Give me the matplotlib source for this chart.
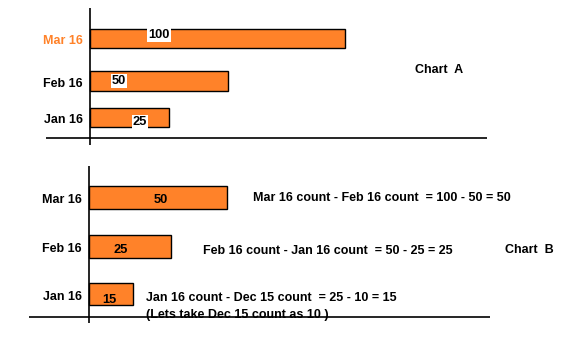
import matplotlib
matplotlib.use("Agg")
import matplotlib.pyplot as plt

# ---------------- data ----------------
months = ["Jan 16", "Feb 16", "Mar 16"]

# Chart A: cumulative counts (labels) and drawn bar lengths
a_counts = [25, 50, 100]
a_lengths = [31, 54, 100]

# Chart B: month-over-month difference
b_counts = [15, 25, 50]
b_lengths = [17, 32, 54]
b_notes = [
    "Jan 16 count - Dec 15 count  = 25 - 10 = 15",
    "Feb 16 count - Jan 16 count  = 50 - 25 = 25",
    "Mar 16 count - Feb 16 count  = 100 - 50 = 50",
]
b_footnote = "(Lets take Dec 15 count as 10 )"

ORANGE = "#FF8229"
INK = "black"
FONT = "Liberation Sans"
FS = 9.0
TXT_DY = -0.06  # text baseline nudge (data units)

W, H = 587, 356
fig = plt.figure(figsize=(W / 100, H / 100), dpi=100)


def px_axes(left, right, top, bottom):
    return fig.add_axes([left / W, 1 - bottom / H, (right - left) / W, (bottom - top) / H])


def style(ax, xlim, ylim, base_y, ypos, colors):
    ax.set_xlim(*xlim)
    ax.set_ylim(*ylim)
    ax.set_axis_off()
    ax.axvline(0, color=INK, lw=1.2)
    ax.axhline(base_y, color=INK, lw=1.2)
    # category labels sit just left of the vertical axis line
    for y, m, c in zip(ypos, months, colors):
        ax.text(-2.9, y + TXT_DY, m, ha="right", va="center", fontsize=FS,
                fontweight="bold", family=FONT, color=c)


# ---------------- Chart A ----------------
a_pos = [0, 0.92, 2]
axA = px_axes(46, 487, 8, 145)
style(axA, (-17.25, 155.7), (-0.696, 2.772), -0.519, a_pos, [INK, INK, ORANGE])
axA.barh(a_pos, a_lengths, height=0.5, color=ORANGE,
         edgecolor=INK, linewidth=1.0, zorder=2)

a_label_x = [19.6, 11.4, 27]
a_label_dy = [-0.12, 0.0, 0.08]
for i, v in enumerate(a_counts):
    axA.text(a_label_x[i], a_pos[i] + a_label_dy[i], str(v), ha="center", va="center",
             fontsize=FS + 0.3, fontweight="bold", family=FONT, color=INK, zorder=3,
             bbox=dict(facecolor="white", edgecolor="none", pad=0.8))
axA.text(127.5, 1.25 + TXT_DY, "Chart  A", ha="left", va="center", fontsize=FS,
         fontweight="bold", family=FONT, color=INK)

# ---------------- Chart B ----------------
b_pos = [0, 0.99, 2]
axB = px_axes(29, 490, 166, 323)
style(axB, (-23.7, 157), (-0.601, 2.653), -0.477, b_pos, [INK, INK, INK])
axB.barh(b_pos, b_lengths, height=0.47, color=ORANGE,
         edgecolor=INK, linewidth=1.0, zorder=2)

b_label_x = [8, 12.4, 28]
b_label_dy = [-0.06, -0.01, 0.0]
for i, v in enumerate(b_counts):
    axB.text(b_label_x[i], b_pos[i] + b_label_dy[i] + TXT_DY, str(v), ha="center",
             va="center", fontsize=FS + 0.3, fontweight="bold", family=FONT,
             color=INK, zorder=3)

b_note_x = [22.2, 44.5, 64.1]
b_note_dy = [-0.02, -0.03, 0.05]
for i, note in enumerate(b_notes):
    axB.text(b_note_x[i], b_pos[i] + b_note_dy[i] + TXT_DY, note, ha="left",
             va="center", fontsize=FS, fontweight="bold", family=FONT, color=INK)
axB.text(22.2, -0.38 + TXT_DY, b_footnote, ha="left", va="center", fontsize=FS,
         fontweight="bold", family=FONT, color=INK)
axB.text(163, 0.98 + TXT_DY, "Chart  B", ha="left", va="center", fontsize=FS,
         fontweight="bold", family=FONT, color=INK, clip_on=False)

fig.savefig("out.png", dpi=100, facecolor="white")
